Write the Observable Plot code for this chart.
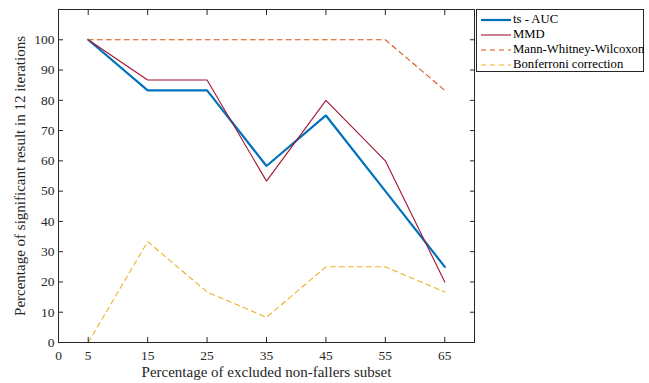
<!DOCTYPE html>
<html><head><meta charset="utf-8">
<script src="https://cdn.jsdelivr.net/npm/d3@7"></script>
<script src="https://cdn.jsdelivr.net/npm/@observablehq/plot@0.6"></script>
<style>
body{margin:0;background:#fff;}
#wrap{position:relative;width:649px;height:383px;font-family:"Liberation Serif","Times New Roman",serif;}
#legend{position:absolute;left:476px;top:9px;width:168px;height:63px;border:1px solid #262626;background:#fff;box-sizing:border-box;font-size:12.7px;color:#000;}
.row{position:absolute;left:3px;height:15px;display:flex;align-items:center;white-space:nowrap;}
.row svg{margin-right:1px;}
</style></head>
<body><div id="wrap"></div>
<script>
const xs = [5, 15, 25, 35, 45, 55, 65];
const tsAUC = [100, 83.3, 83.3, 58.3, 75, 50, 25];
const mmd = [100, 86.7, 86.7, 53.3, 80, 60, 20];
const mww = [100, 100, 100, 100, 100, 100, 83.3];
const bonf = [0, 33.3, 16.7, 8.3, 25, 25, 16.7];
const seriesNames = ["ts - AUC", "MMD", "Mann-Whitney-Wilcoxon", "Bonferroni correction"];
const colors = ["#0072BD", "#A2142F", "#D95319", "#EDB120"];
const xTicks = [0, 5, 15, 25, 35, 45, 55, 65];
const yTicks = [0, 10, 20, 30, 40, 50, 60, 70, 80, 90, 100];

const styles = [
  {strokeWidth: 2.2, dash: null},
  {strokeWidth: 1.1, dash: null},
  {strokeWidth: 1.1, dash: "5,4"},
  {strokeWidth: 1.1, dash: "5,4"}
];
const allVals = [tsAUC, mmd, mww, bonf];
const rows = (vals) => xs.map((x, i) => ({x, y: vals[i]}));

const marks = allVals.map((vals, k) => Plot.line(rows(vals), {
  x: "x", y: "y", stroke: colors[k], strokeWidth: styles[k].strokeWidth,
  strokeDasharray: styles[k].dash, strokeLinejoin: "miter"
}));

const axisColor = "#262626";
const chart = Plot.plot({
  width: 649, height: 383,
  marginLeft: 58, marginRight: 175, marginTop: 9, marginBottom: 41,
  style: {fontFamily: "Liberation Serif, Times New Roman, serif", fontSize: "13.5px", color: "#262626", background: "#fff"},
  x: {domain: [0, 70]},
  y: {domain: [0, 110]},
  marks: [
    ...marks,
    Plot.frame({stroke: axisColor, strokeWidth: 1}),
    Plot.axisX({ticks: xTicks, tickSize: -5, tickPadding: 13, stroke: axisColor, fill: "#262626", label: null}),
    Plot.axisX({anchor: "top", ticks: xTicks, tickSize: -5, stroke: axisColor, text: null, label: null}),
    Plot.axisY({ticks: yTicks, tickSize: -5, tickPadding: 9, stroke: axisColor, fill: "#262626", label: null}),
    Plot.axisY({anchor: "right", ticks: yTicks, tickSize: -5, stroke: axisColor, text: null, label: null}),
    Plot.text(["Percentage of excluded non-fallers subset"], {frameAnchor: "bottom", dy: 30, lineAnchor: "middle", textAnchor: "middle", fontSize: 15, fill: "#262626"}),
    Plot.text(["Percentage of significant result in 12 iterations"], {frameAnchor: "left", dx: -38, rotate: -90, textAnchor: "middle", lineAnchor: "middle", fontSize: 15, fill: "#262626"})
  ]
});
const wrap = document.getElementById("wrap");
wrap.appendChild(chart);

const legend = document.createElement("div");
legend.id = "legend";
seriesNames.forEach((name, k) => {
  const r = document.createElement("div");
  r.className = "row";
  r.style.top = (2 + k * 15) + "px";
  const dash = styles[k].dash ? `stroke-dasharray="${styles[k].dash}"` : "";
  r.innerHTML = `<svg width="32" height="6"><line x1="1" y1="3" x2="31" y2="3" stroke="${colors[k]}" stroke-width="${styles[k].strokeWidth}" ${dash}/></svg><span>${name}</span>`;
  legend.appendChild(r);
});
wrap.appendChild(legend);
</script></body></html>
